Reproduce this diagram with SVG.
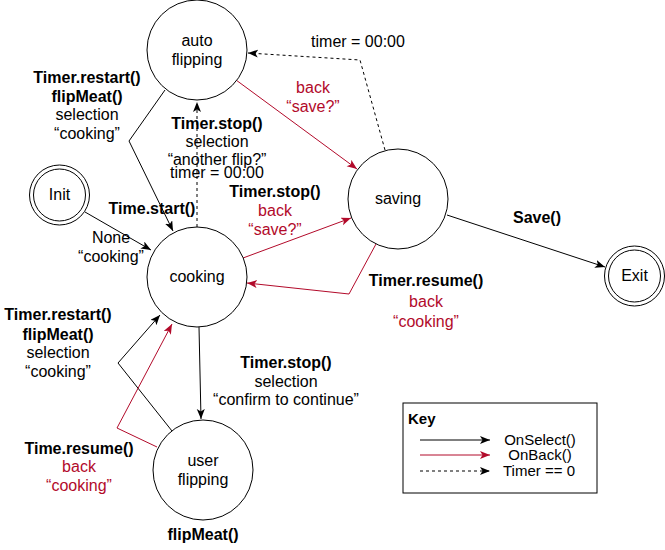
<svg xmlns="http://www.w3.org/2000/svg" width="665" height="550" viewBox="0 0 665 550">
<style>
text{font-family:"Liberation Sans",Arial,sans-serif;font-size:16px;text-anchor:middle;fill:#000}
.b{font-weight:bold}
.r{fill:#B20A2A}
.k{font-size:15px}
.node{fill:#fff;stroke:#000;stroke-width:1}
.e{fill:none;stroke:#000;stroke-width:1}
.red{fill:none;stroke:#B20A2A;stroke-width:1}
.d{fill:none;stroke:#000;stroke-width:1;stroke-dasharray:3 3}
</style>
<defs>
<marker id="ab" markerUnits="userSpaceOnUse" markerWidth="12" markerHeight="10" refX="10" refY="4" orient="auto"><path d="M0,0 L10,4 L0,8 L2.5,4 z" fill="#000"/></marker>
<marker id="ar" markerUnits="userSpaceOnUse" markerWidth="12" markerHeight="10" refX="10" refY="4" orient="auto"><path d="M0,0 L10,4 L0,8 L2.5,4 z" fill="#B20A2A"/></marker>
</defs>
<rect width="665" height="550" fill="#fff"/>
<g id="connectors">
<polyline class="e" points="165,90 129,141 173,231" marker-end="url(#ab)"/>
<line class="d" x1="197" y1="227" x2="197" y2="102" marker-end="url(#ab)"/>
<line class="e" x1="85" y1="212" x2="151" y2="250" marker-end="url(#ab)"/>
<line class="red" x1="236" y1="80" x2="357" y2="169" marker-end="url(#ar)"/>
<polyline class="d" points="385,150 360,60 248,53" marker-end="url(#ab)"/>
<line class="red" x1="243" y1="258" x2="351" y2="218" marker-end="url(#ar)"/>
<polyline class="red" points="376,244 349,294 247,283" marker-end="url(#ar)"/>
<line class="e" x1="447" y1="215" x2="605" y2="267" marker-end="url(#ab)"/>
<line class="e" x1="199" y1="327" x2="201" y2="419" marker-end="url(#ab)"/>
<polyline class="e" points="172,431 118,363 160,315" marker-end="url(#ab)"/>
<polyline class="red" points="157,447 117,428 172,324" marker-end="url(#ar)"/>
</g>
<g id="labels">
<text class="b" x="87" y="83">Timer.restart()</text>
<text class="b" x="87" y="102">flipMeat()</text>
<text x="87" y="120">selection</text>
<text x="87" y="139">“cooking”</text>
<text class="b" x="217" y="129">Timer.stop()</text>
<text x="217" y="147">selection</text>
<text x="217" y="165">“another flip?”</text>
<text x="217" y="178">timer = 00:00</text>
<text class="b" x="152" y="214">Time.start()</text>
<text x="111" y="243">None</text>
<text x="111" y="262">“cooking”</text>
<text class="r" x="313" y="93">back</text>
<text class="r" x="313" y="112">“save?”</text>
<text x="358" y="47">timer = 00:00</text>
<text class="b" x="275" y="197">Timer.stop()</text>
<text class="r" x="275" y="216">back</text>
<text class="r" x="275" y="235">“save?”</text>
<text class="b" x="426" y="286">Timer.resume()</text>
<text class="r" x="426" y="307">back</text>
<text class="r" x="426" y="327">“cooking”</text>
<text class="b" x="537" y="223">Save()</text>
<text class="b" x="286" y="368">Timer.stop()</text>
<text x="286" y="387">selection</text>
<text x="286" y="405">“confirm to continue”</text>
<text class="b" x="58" y="320">Timer.restart()</text>
<text class="b" x="58" y="340">flipMeat()</text>
<text x="58" y="358">selection</text>
<text x="58" y="377">“cooking”</text>
<text class="b" x="79" y="454">Time.resume()</text>
<text class="r" x="79" y="472">back</text>
<text class="r" x="79" y="491">“cooking”</text>
<text class="b" x="203" y="540">flipMeat()</text>
</g>
<g id="auto-flipping">
<circle class="node" cx="197" cy="50" r="50"/>
<text x="197" y="46">auto</text>
<text x="197" y="65">flipping</text>
</g>
<g id="saving">
<circle class="node" cx="398" cy="199" r="50"/>
<text x="398" y="204">saving</text>
</g>
<g id="cooking">
<circle class="node" cx="197" cy="277" r="50"/>
<text x="197" y="282">cooking</text>
</g>
<g id="init">
<circle class="node" cx="59.5" cy="195" r="30"/>
<circle class="node" cx="59.5" cy="195" r="26"/>
<text x="59.5" y="200">Init</text>
</g>
<g id="exit">
<circle class="node" cx="634.5" cy="276" r="30"/>
<circle class="node" cx="634.5" cy="276" r="26"/>
<text x="634.5" y="281">Exit</text>
</g>
<g id="user-flipping">
<circle class="node" cx="203" cy="470" r="50"/>
<text x="203" y="466">user</text>
<text x="203" y="485">flipping</text>
</g>
<g id="key">
<rect x="403" y="403" width="194" height="90" fill="#fff" stroke="#000" stroke-width="1"/>
<text class="b k" x="408" y="424" style="text-anchor:start">Key</text>
<line class="e" x1="420" y1="440" x2="490" y2="440" marker-end="url(#ab)"/>
<line class="red" x1="420" y1="455" x2="490" y2="455" marker-end="url(#ar)"/>
<line class="d" x1="420" y1="471" x2="490" y2="471" marker-end="url(#ab)"/>
<text class="k" x="540" y="445">OnSelect()</text>
<text class="k" x="540" y="460">OnBack()</text>
<text class="k" x="539" y="476">Timer == 0</text>
</g>
</svg>
